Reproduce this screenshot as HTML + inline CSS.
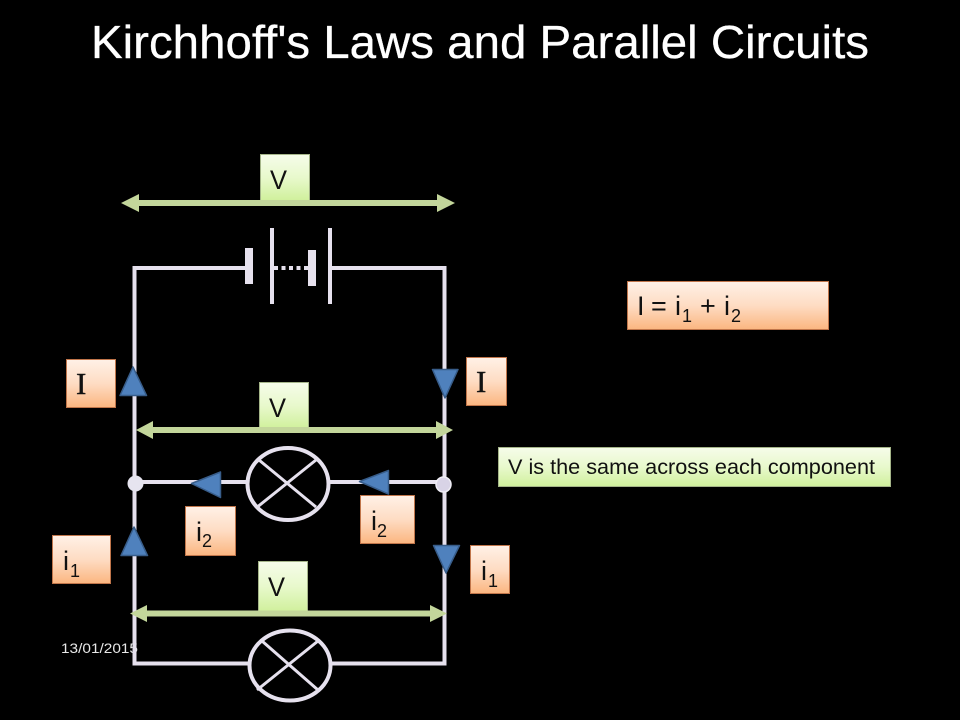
<!DOCTYPE html>
<html>
<head>
<meta charset="utf-8">
<style>
html,body{margin:0;padding:0;background:#000;width:960px;height:720px;overflow:hidden}
svg{display:block}
text{font-family:"Liberation Sans",sans-serif;fill:#111}
</style>
</head>
<body>
<svg width="960" height="720" viewBox="0 0 960 720" xmlns="http://www.w3.org/2000/svg">
<defs>
<linearGradient id="o" x1="0" y1="0" x2="0" y2="1"><stop offset="0" stop-color="#fff1e7"/><stop offset="0.5" stop-color="#fedcc3"/><stop offset="1" stop-color="#fbb680"/></linearGradient>
<linearGradient id="g" x1="0" y1="0" x2="0" y2="1"><stop offset="0" stop-color="#f6fcea"/><stop offset="0.5" stop-color="#e8f9cc"/><stop offset="1" stop-color="#d0f09c"/></linearGradient>
</defs>
<rect width="960" height="720" fill="#000"/>
<text x="91" y="58" font-size="46" textLength="778" lengthAdjust="spacingAndGlyphs" style="fill:#fff;stroke:#fff;stroke-width:.3">Kirchhoff's Laws and Parallel Circuits</text>
<text x="61" y="653" font-size="14" textLength="77" lengthAdjust="spacingAndGlyphs" style="fill:#e8e8e8">13/01/2015</text>

<g fill="none" stroke="#e6e1ee" stroke-width="4">
<path d="M246 268H134.500V663.500H249M331 663.500H444.500V268H331"/>
<path d="M135 482H246M330 482H444"/>
<path d="M272 228V304M330 228V304"/>
<path d="M274 268H308" stroke-dasharray="4 3.500"/>
<ellipse cx="288" cy="484" rx="40.500" ry="36"/>
<path d="M259 460L316 507M316 460L256 508" stroke-width="3"/>
<ellipse cx="290" cy="665.500" rx="40.500" ry="35"/>
<path d="M262 641L318 690M318 641L257 690" stroke-width="3"/>
</g>
<rect x="245" y="248" width="8" height="36" fill="#e6e1ee"/>
<rect x="308" y="250" width="8" height="36" fill="#e6e1ee"/>
<circle cx="135.500" cy="483.500" r="8" fill="#e6e4ef"/>
<circle cx="443.500" cy="484.500" r="7.500" fill="#d8d3e6" stroke="#efedf5" stroke-width="1.500"/>

<g stroke="#a5b589" stroke-width="1" fill="url(#g)">
<rect x="260.500" y="154.500" width="49" height="46"/>
<rect x="259.500" y="382.500" width="49" height="46"/>
<rect x="258.500" y="561.500" width="49" height="50"/>
<rect x="498.500" y="447.500" width="392" height="39"/>
</g>
<g stroke="#c0754a" stroke-width="1" fill="url(#o)">
<rect x="66.500" y="359.500" width="49" height="48"/>
<rect x="466.500" y="357.500" width="40" height="48"/>
<rect x="185.500" y="506.500" width="50" height="49"/>
<rect x="360.500" y="495.500" width="54" height="48"/>
<rect x="52.500" y="535.500" width="58" height="48"/>
<rect x="470.500" y="545.500" width="39" height="48"/>
<rect x="627.500" y="281.500" width="201" height="48"/>
</g>

<g fill="#c3d69b">
<path d="M121 203L139 194V200H437V194L455 203L437 212V206H139V212Z"/>
<path d="M136 430L153 421V427H436V421L453 430L436 439V433H153V439Z"/>
<path d="M130 613.500L147 605V610.500H430V605L447 613.500L430 622V616.500H147V622Z"/>
</g>

<g fill="#4f81bd" stroke="#385d8a" stroke-width="1.500" stroke-linejoin="round">
<path d="M133 367L146.500 395.500H120Z"/>
<path d="M134 527L147.500 555.500H121Z"/>
<path d="M432.500 369.500H458L445 398Z"/>
<path d="M433.500 545.500H459.500L446 573Z"/>
<path d="M191.500 483.500L220.500 472V497.500Z"/>
<path d="M359.500 481.500L388.500 470.500V494Z"/>
</g>

<g font-size="27">
<text x="270" y="189" textLength="17" lengthAdjust="spacingAndGlyphs">V</text>
<text x="269" y="417" textLength="17" lengthAdjust="spacingAndGlyphs">V</text>
<text x="268" y="596" textLength="17" lengthAdjust="spacingAndGlyphs">V</text>
</g>
<text x="76" y="394" font-size="31" style="font-family:'Liberation Serif',serif;stroke:#111;stroke-width:.4">I</text>
<text x="476" y="392" font-size="31" style="font-family:'Liberation Serif',serif;stroke:#111;stroke-width:.4">I</text>

<g font-size="27">
<text x="196" y="541">i</text><text x="202" y="547" font-size="18">2</text>
<text x="371" y="530">i</text><text x="377" y="537" font-size="18">2</text>
<text x="63" y="570">i</text><text x="70" y="577" font-size="18">1</text>
<text x="481" y="580">i</text><text x="488" y="587" font-size="18">1</text>
<text x="637" y="315">I</text>
<text x="651" y="315">=</text>
<text x="675" y="315">i</text>
<text x="682" y="322" font-size="18">1</text>
<text x="700" y="315">+</text>
<text x="724" y="315">i</text>
<text x="731" y="322" font-size="18">2</text>
</g>
<text x="508" y="474" font-size="21" textLength="367" lengthAdjust="spacingAndGlyphs">V is the same across each component</text>
</svg>
</body>
</html>
